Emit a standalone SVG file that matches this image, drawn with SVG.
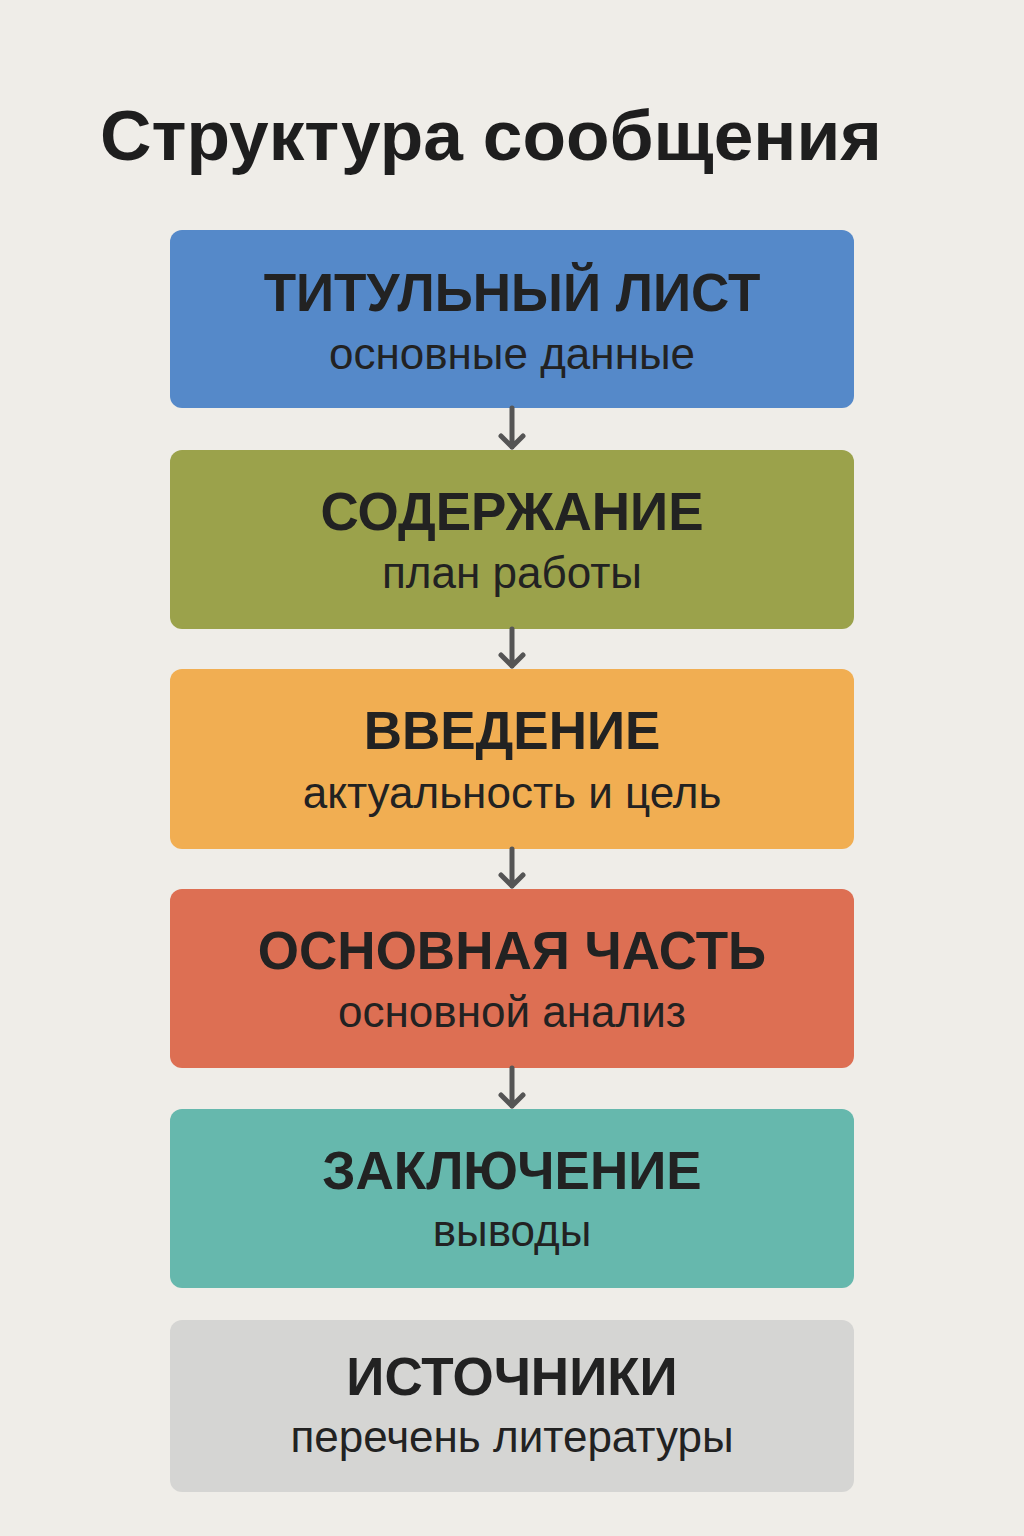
<svg xmlns="http://www.w3.org/2000/svg" width="1024" height="1536" viewBox="0 0 1024 1536">
<style>
.box{stroke:none}
.t{font-family:"Liberation Sans",Arial,sans-serif;font-weight:bold;font-size:53px;fill:#222;text-anchor:middle}
.s{font-family:"Liberation Sans",Arial,sans-serif;font-size:44px;fill:#222;text-anchor:middle}
.h{font-family:"Liberation Sans",Arial,sans-serif;font-weight:bold;font-size:71.3px;fill:#1e1e1e}
.c{stroke:#555;stroke-width:5;fill:none;stroke-linecap:round;stroke-linejoin:round}
</style>
<rect width="1024" height="1536" fill="#EFEDE8"/>
<text class="h" x="100" y="160">Структура сообщения</text>
<g id="n1"><rect class="box" x="170" y="230" width="684" height="178" rx="12" fill="#5589C9"/><text class="t" x="512" y="311">ТИТУЛЬНЫЙ ЛИСТ</text><text class="s" x="512" y="369">основные данные</text></g>
<g id="n2"><rect class="box" x="170" y="450" width="684" height="179" rx="12" fill="#9BA24B"/><text class="t" x="512" y="530">СОДЕРЖАНИЕ</text><text class="s" x="512" y="588">план работы</text></g>
<g id="n3"><rect class="box" x="170" y="669" width="684" height="180" rx="12" fill="#F1AE52"/><text class="t" x="512" y="749">ВВЕДЕНИЕ</text><text class="s" x="512" y="808">актуальность и цель</text></g>
<g id="n4"><rect class="box" x="170" y="889" width="684" height="179" rx="12" fill="#DD6F53"/><text class="t" x="512" y="969">ОСНОВНАЯ ЧАСТЬ</text><text class="s" x="512" y="1027">основной анализ</text></g>
<g id="n5"><rect class="box" x="170" y="1109" width="684" height="179" rx="12" fill="#66B8AD"/><text class="t" x="512" y="1189">ЗАКЛЮЧЕНИЕ</text><text class="s" x="512" y="1246">выводы</text></g>
<g id="n6"><rect class="box" x="170" y="1320" width="684" height="172" rx="12" fill="#D5D5D3"/><text class="t" x="512" y="1395">ИСТОЧНИКИ</text><text class="s" x="512" y="1452">перечень литературы</text></g>
<g id="connectors">
<path class="c" d="M512 408V447M501 436L512 447L523 436"/>
<path class="c" d="M512 629V666M501 655L512 666L523 655"/>
<path class="c" d="M512 849V886M501 875L512 886L523 875"/>
<path class="c" d="M512 1068V1106M501 1095L512 1106L523 1095"/>
</g>
</svg>
